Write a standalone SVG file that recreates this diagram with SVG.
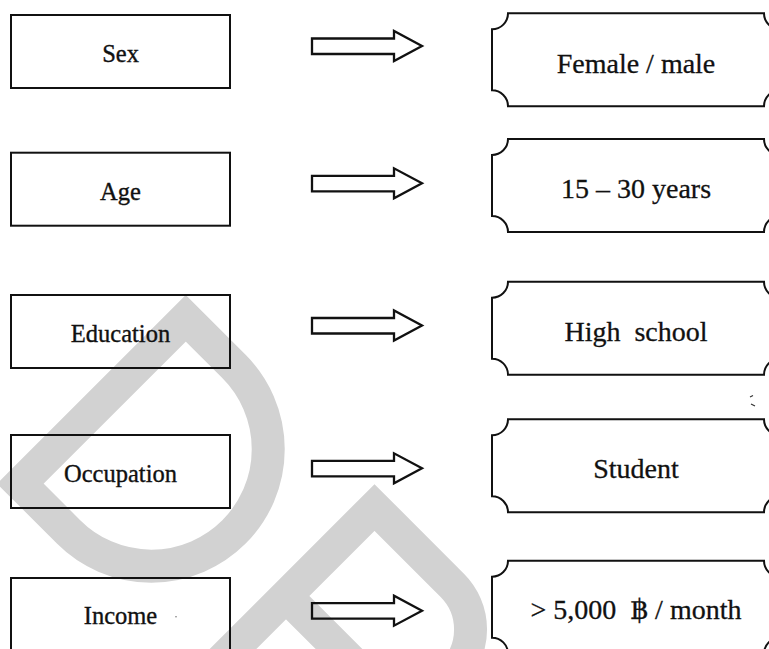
<svg xmlns="http://www.w3.org/2000/svg" width="769" height="649" viewBox="0 0 769 649">
<style>
.wm{fill:none;stroke:#d2d2d2;stroke-width:33;stroke-linejoin:miter;stroke-miterlimit:10}
.box{fill:none;stroke:#111;stroke-width:2}
.arrow{fill:none;stroke:#111;stroke-width:2.3;stroke-linejoin:miter}
.lt{font-family:"Liberation Serif","DejaVu Serif",serif;font-size:24.5px;fill:#111;stroke:#111;stroke-width:0.35;text-anchor:middle}
.rt{font-family:"Liberation Serif","DejaVu Serif",serif;font-size:28px;fill:#111;stroke:#111;stroke-width:0.3;text-anchor:middle}
</style>
<rect width="769" height="649" fill="#fff"/>
<g id="watermark">
<path class="wm" d="M20.35 483.65 L185.75 318.25 L233.95 366.45 A117 117 0 0 1 234 531.9 A117 117 0 0 1 68.55 531.85 Z"/>
<path class="wm" d="M198 684 L374.5 507.5 L452.3 585.3 A62.5 62.5 0 0 1 452.2 673.7 A62.5 62.5 0 0 1 363.8 673.8 L286 596 M286 596 L430 740"/>
</g>
<g id="sex"><rect class="box" x="11" y="15" width="219" height="73"/><text class="lt" x="120.5" y="62">Sex</text></g>
<g id="age"><rect class="box" x="11" y="152.7" width="219" height="73"/><text class="lt" x="120.5" y="199.7">Age</text></g>
<g id="education"><rect class="box" x="11" y="295" width="219" height="73"/><text class="lt" x="120.5" y="342">Education</text></g>
<g id="occupation"><rect class="box" x="11" y="435" width="219" height="73"/><text class="lt" x="120.5" y="482">Occupation</text></g>
<g id="income"><rect class="box" x="11" y="578" width="219" height="73"/><text class="lt" x="120.5" y="624">Income</text><circle cx="176" cy="616.7" r="0.8" fill="#777"/></g>
<g id="female-male"><path class="box" d="M508 13.3 H764 A16 16 0 0 0 780 29.3 V90.3 A16 16 0 0 0 764 106.3 H508 A16 16 0 0 0 492 90.3 V29.3 A16 16 0 0 0 508 13.3 Z"/><text class="rt" x="636" y="72.5">Female / male</text></g>
<g id="years"><path class="box" d="M508 139 H764 A16 16 0 0 0 780 155 V216 A16 16 0 0 0 764 232 H508 A16 16 0 0 0 492 216 V155 A16 16 0 0 0 508 139 Z"/><text class="rt" x="636" y="198">15 – 30 years</text></g>
<g id="high-school"><path class="box" d="M508 281.7 H764 A16 16 0 0 0 780 297.7 V358.7 A16 16 0 0 0 764 374.7 H508 A16 16 0 0 0 492 358.7 V297.7 A16 16 0 0 0 508 281.7 Z"/><text class="rt" x="636" y="340.5">High&#160; school</text></g>
<g id="student"><path class="box" d="M508 419.3 H764 A16 16 0 0 0 780 435.3 V496.3 A16 16 0 0 0 764 512.3 H508 A16 16 0 0 0 492 496.3 V435.3 A16 16 0 0 0 508 419.3 Z"/><text class="rt" x="636" y="478.3">Student</text></g>
<g id="monthly-income"><path class="box" d="M508 560.7 H764 A16 16 0 0 0 780 576.7 V637.7 A16 16 0 0 0 764 653.7 H508 A16 16 0 0 0 492 637.7 V576.7 A16 16 0 0 0 508 560.7 Z"/><text class="rt" x="636" y="619.3">&gt; 5,000&#160; ฿ / month</text></g>
<path d="M750 397 l3 -1.5 M751 404 l4 2" stroke="#333" stroke-width="1.2" fill="none"/>
<g id="connectors">
<path class="arrow" d="M312 38.5 H394 V31 L422 46 L394 61 V54 H312 Z"/>
<path class="arrow" d="M312 175.8 H394 V168.3 L422 183.3 L394 198.3 V191.3 H312 Z"/>
<path class="arrow" d="M312 318 H394 V310.5 L422 325.5 L394 340.5 V333.5 H312 Z"/>
<path class="arrow" d="M312 460.8 H394 V453.3 L422 468.3 L394 483.3 V476.3 H312 Z"/>
<path class="arrow" d="M312 603.2 H394 V595.7 L422 610.7 L394 625.7 V618.7 H312 Z"/>
</g>
</svg>
